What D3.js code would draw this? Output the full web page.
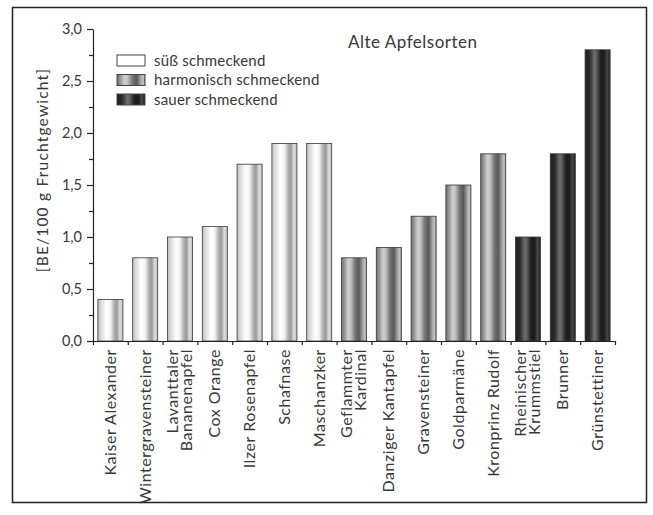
<!DOCTYPE html>
<html>
<head>
<meta charset="utf-8">
<script src="https://cdn.jsdelivr.net/npm/d3@7"></script>
<style>
  body { margin: 0; background: #fff; }
  svg text { font-family: Lato, "Open Sans", sans-serif; fill: #383838; }
</style>
</head>
<body>
<div id="chart"></div>
<script>
  // data
  var sorten = ["Kaiser Alexander", "Wintergravensteiner", "Lavanttaler|Bananenapfel", "Cox Orange",
                "Ilzer Rosenapfel", "Schafnase", "Maschanzker", "Geflammter|Kardinal",
                "Danziger Kantapfel", "Gravensteiner", "Goldparmäne", "Kronprinz Rudolf",
                "Rheinischer|Krummstiel", "Brunner", "Grünstettiner"];
  var werte = [0.4, 0.8, 1.0, 1.1, 1.7, 1.9, 1.9, 0.8, 0.9, 1.2, 1.5, 1.8, 1.0, 1.8, 2.8];
  var geschmack = ["suess", "suess", "suess", "suess", "suess", "suess", "suess",
                   "harm", "harm", "harm", "harm", "harm", "sauer", "sauer", "sauer"];
  var legendKeys = ["suess", "harm", "sauer"];
  var legendLabels = ["süß schmeckend", "harmonisch schmeckend", "sauer schmeckend"];
  var yTicks = [0, 0.5, 1.0, 1.5, 2.0, 2.5, 3.0];
  var yMinor = [0.25, 0.75, 1.25, 1.75, 2.25, 2.75];

  var W = 653, H = 515;
  var x0 = 93, x1 = 615, yTop = 29, yBot = 341;

  var svg = d3.select("#chart").append("svg")
      .attr("width", W)
      .attr("height", H);

  ////// gradients for the cylinder look /////
  var grads = {
    suess: [[0, "#b8b8b8"], [0.1, "#d6d6d6"], [0.35, "#ffffff"], [0.5, "#f2f2f2"],
            [0.66, "#adadad"], [0.76, "#9a9a9a"], [0.88, "#dedede"], [1, "#bcbcbc"]],
    harm:  [[0, "#6e6e6e"], [0.1, "#8e8e8e"], [0.27, "#cfcfcf"], [0.37, "#c4c4c4"],
            [0.55, "#747474"], [0.7, "#585858"], [0.86, "#a8a8a8"], [0.94, "#c4c4c4"], [1, "#7a7a7a"]],
    sauer: [[0, "#1c1c1c"], [0.18, "#2c2c2c"], [0.38, "#707070"], [0.46, "#5c5c5c"],
            [0.62, "#202020"], [0.76, "#1c1c1c"], [0.88, "#474747"], [1, "#222"]]
  };
  var defs = svg.append("defs");
  Object.keys(grads).forEach(function(k) {
    var g = defs.append("linearGradient")
        .attr("id", "g_" + k)
        .attr("x1", "0%").attr("x2", "100%").attr("y1", "0%").attr("y2", "0%");
    grads[k].forEach(function(s) {
      g.append("stop").attr("offset", s[0]).attr("stop-color", s[1]);
    });
  });

  // frame
  svg.append("rect")
      .attr("x", 12.5).attr("y", 7.5)
      .attr("width", 634).attr("height", 495)
      .attr("fill", "#fff")
      .attr("stroke", "#222")
      .attr("stroke-width", 1.5);

  ////// scales /////
  var xScale = d3.scaleBand()
      .domain(d3.range(sorten.length))
      .range([x0, x1])
      .paddingInner(0.28)
      .paddingOuter(0.14);

  var xLin = d3.scaleLinear()
      .domain([0, sorten.length])
      .range([x0, x1]);

  var yScale = d3.scaleLinear()
      .domain([0, 3])
      .range([yBot, yTop]);

  // bars
  svg.append("g")
      .selectAll("rect")
      .data(werte)
      .enter()
      .append("rect")
      .attr("x", function(d, i) { return xScale(i); })
      .attr("width", xScale.bandwidth())
      .attr("y", function(d) { return yScale(d); })
      .attr("height", function(d) { return yBot - yScale(d); })
      .attr("fill", function(d, i) { return "url(#g_" + geschmack[i] + ")"; })
      .attr("stroke", "#3a3a3a")
      .attr("stroke-width", 0.8);

  ////// axes /////
  var yAxis = d3.axisLeft(yScale)
      .tickValues(yTicks)
      .tickSize(6)
      .tickSizeOuter(0)
      .tickPadding(5)
      .tickFormat(function(d) { return d3.format(".1f")(d).replace(".", ","); });

  var gy = svg.append("g")
      .attr("transform", "translate(" + x0 + ",0)")
      .call(yAxis);
  gy.selectAll("text").style("font-size", "14.5px");

  svg.append("g")
      .attr("transform", "translate(" + x0 + ",0)")
      .call(d3.axisLeft(yScale).tickValues(yMinor).tickSize(4).tickFormat("").tickSizeOuter(0))
      .select(".domain").remove();

  var xAxis = d3.axisBottom(xLin)
      .tickValues(d3.range(sorten.length + 1))
      .tickSize(4)
      .tickSizeOuter(0)
      .tickFormat("");

  svg.append("g")
      .attr("transform", "translate(0," + yBot + ")")
      .call(xAxis);

  svg.selectAll(".domain, .tick line")
      .attr("stroke", "#222")
      .attr("stroke-width", 1.2);

  // category labels, rotated
  var lab = svg.append("g")
      .selectAll("text")
      .data(sorten)
      .enter()
      .append("text")
      .attr("transform", function(d, i) {
        return "translate(" + (xScale(i) + xScale.bandwidth() / 2) + ",349) rotate(-90)";
      })
      .attr("text-anchor", "end")
      .style("font-size", "16px")
      .style("letter-spacing", "0.55px");

  lab.each(function(d) {
    var parts = d.split("|");
    var t = d3.select(this);
    parts.forEach(function(p, j) {
      t.append("tspan")
          .attr("x", 0)
          .attr("dy", j == 0 ? (parts.length == 1 ? "0.35em" : "-0.12em") : "0.9em")
          .text(p);
    });
  });

  // y label
  svg.append("text")
      .attr("transform", "translate(48,170) rotate(-90)")
      .attr("text-anchor", "middle")
      .style("font-size", "15.5px")
      .style("letter-spacing", "1.2px")
      .text("[BE/100 g Fruchtgewicht]");

  // title
  svg.append("text")
      .attr("x", 348)
      .attr("y", 48)
      .style("font-size", "17px")
      .style("letter-spacing", "0.5px")
      .text("Alte Apfelsorten");

  ////// legend /////
  var leg = svg.append("g")
      .selectAll("g")
      .data(legendKeys)
      .enter()
      .append("g")
      .attr("transform", function(d, i) { return "translate(117," + (55 + i * 19.5) + ")"; });

  leg.append("rect")
      .attr("width", 28)
      .attr("height", 11)
      .attr("fill", function(d) { return d == "suess" ? "#fff" : "url(#g_" + d + ")"; })
      .attr("stroke", "#444")
      .attr("stroke-width", 1);

  leg.append("text")
      .attr("x", 37)
      .attr("y", 10.5)
      .style("font-size", "15px")
      .style("letter-spacing", "0.2px")
      .text(function(d, i) { return legendLabels[i]; });
</script>
</body>
</html>
